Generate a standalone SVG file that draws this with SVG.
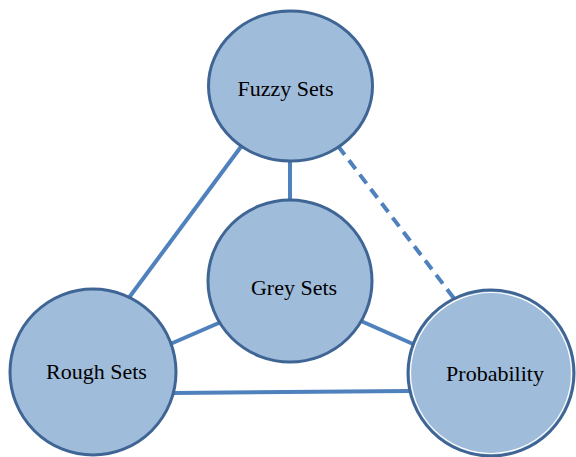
<svg xmlns="http://www.w3.org/2000/svg" width="576" height="457" viewBox="0 0 576 457">
  <style>
    .link { stroke: #4F81BD; stroke-width: 4; fill: none; }
    .dash { stroke-dasharray: 11 7; }
    .node { fill: #A0BCDB; stroke: #3F6594; stroke-width: 3; }
    .inner { fill: none; stroke: #FFFFFF; stroke-width: 1.2; }
    .label { font-family: "Liberation Serif", "Times New Roman", serif; font-size: 22px; fill: #000; text-anchor: middle; }
  </style>
  <rect width="576" height="457" fill="#FFFFFF"/>
  <g id="connectors">
    <line class="link" x1="243" y1="144" x2="128" y2="299"/>
    <line class="link" x1="290" y1="160" x2="290" y2="201"/>
    <line class="link dash" x1="338" y1="146" x2="456" y2="301"/>
    <line class="link" x1="221" y1="322" x2="168" y2="345"/>
    <line class="link" x1="361" y1="321" x2="413" y2="344"/>
    <line class="link" x1="174" y1="393" x2="409" y2="391"/>
  </g>
  <g id="fuzzy-sets">
    <ellipse class="node" cx="290.5" cy="86" rx="82" ry="75"/>
    <text class="label" x="285.5" y="96">Fuzzy Sets</text>
  </g>
  <g id="grey-sets">
    <ellipse class="node" cx="290" cy="281" rx="82" ry="81"/>
    <text class="label" x="294" y="295">Grey Sets</text>
  </g>
  <g id="rough-sets">
    <ellipse class="node" cx="93" cy="372" rx="83" ry="83"/>
    <text class="label" x="96.5" y="379">Rough Sets</text>
  </g>
  <g id="probability">
    <ellipse class="node" cx="491" cy="373" rx="83" ry="83"/>
    <ellipse class="inner" cx="491" cy="373" rx="80.5" ry="80.5"/>
    <text class="label" x="495" y="381">Probability</text>
  </g>
</svg>
